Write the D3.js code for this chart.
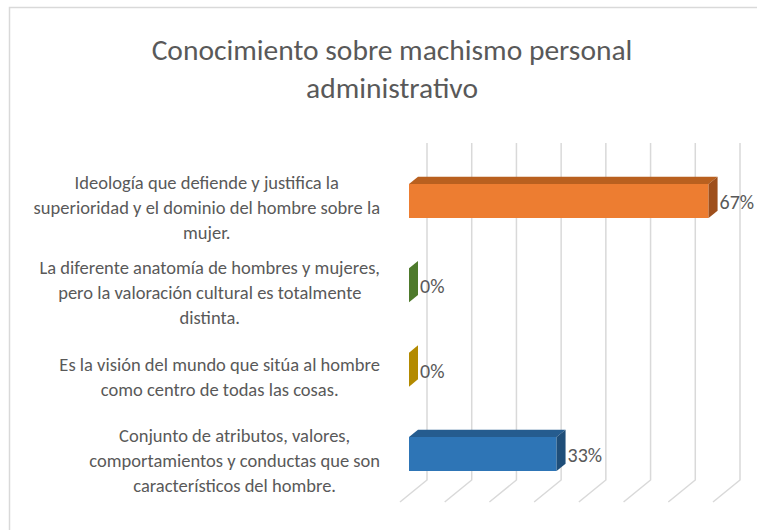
<!DOCTYPE html>
<html>
<head>
  <meta charset="utf-8">
  <script src="https://cdn.jsdelivr.net/npm/d3@7/dist/d3.min.js"></script>
  <style>
    body { margin: 0; background: #fff; }
    text { font-family: Calibri, Carlito, Lato, sans-serif; fill: #595959; }
  </style>
</head>
<body>
  <svg id="chart" width="757" height="530"></svg>
  <script>
  // datos del gráfico
  var categorias = [
    "Ideología que defiende y justifica la\nsuperioridad y el dominio del hombre sobre la\nmujer.",
    "La diferente anatomía de hombres y mujeres,\npero la valoración cultural es totalmente\ndistinta.",
    "Es la visión del mundo que sitúa al hombre\ncomo centro de todas las cosas.",
    "Conjunto de atributos, valores,\ncomportamientos y conductas que son\ncaracterísticos del hombre."
  ];
  var valores = [0.67, 0, 0, 0.33];
  var etiquetas = ["67%", "0%", "0%", "33%"];
  var ticks = [0, 0.1, 0.2, 0.3, 0.4, 0.5, 0.6, 0.7];
  var titulo = ["Conocimiento sobre machismo personal", "administrativo"];

  // colores: frente, arriba, lado
  var colores = [
    ["#ED7D31", "#B9601F", "#9E4F1C"],
    ["#5B8F35", "#4E7A2C", "#4E7A2C"],
    ["#C49500", "#B38A00", "#B38A00"],
    ["#2E75B6", "#255C8F", "#1F4E79"]
  ];

  var svg = d3.select("#chart");

  // borde del gráfico
  svg.append("rect")
    .attr("x", 9.5).attr("y", 7.5)
    .attr("width", 800).attr("height", 600)
    .attr("fill", "none").attr("stroke", "#D9D9D9").attr("stroke-width", 1.5);

  // título
  svg.append("g").selectAll("text")
    .data(titulo)
    .enter().append("text")
    .attr("x", 392)
    .attr("y", function(d, i) { return 50 + i * 38; })
    .attr("dy", "0.35em")
    .attr("text-anchor", "middle")
    .style("font-size", "29.5px")
    .style("font-weight", 300)
    .text(function(d) { return d; });

  // escalas
  var x = d3.scaleLinear().domain([0, 0.7]).range([0, 313]);
  var y = d3.scalePoint().domain(d3.range(categorias.length)).range([201, 454]);

  var fondoX = 427, gridTop = 143, gridBottom = 480;
  var prof = [-27, 22]; // profundidad (fondo -> frente)
  var barH = 34;
  var frenteX = fondoX + prof[0] * 2 / 3;
  var dx = -prof[0] / 3, dy = -prof[1] / 3; // cara de la barra

  // líneas de cuadrícula (pared y piso)
  var grid = svg.append("g").attr("stroke", "#D9D9D9").attr("stroke-width", 1.5).attr("fill", "none");
  grid.selectAll("path")
    .data(ticks)
    .enter().append("path")
    .attr("d", function(t) {
      var gx = fondoX + x(t);
      return "M" + gx + "," + gridTop + "V" + gridBottom + "L" + (gx + prof[0]) + "," + (gridBottom + prof[1]);
    });

  // barras 3D
  var barras = svg.append("g").selectAll("g")
    .data(valores)
    .enter().append("g");

  barras.append("rect")
    .attr("x", frenteX)
    .attr("y", function(d, i) { return y(i) - barH / 2; })
    .attr("width", function(d) { return x(d); })
    .attr("height", barH)
    .attr("fill", function(d, i) { return colores[i][0]; });

  barras.append("path")
    .attr("fill", function(d, i) { return colores[i][1]; })
    .attr("d", function(d, i) {
      var x0 = frenteX, x1 = frenteX + x(d), y0 = y(i) - barH / 2;
      return "M" + x0 + "," + y0 + "L" + (x0 + dx) + "," + (y0 + dy) + "L" + (x1 + dx) + "," + (y0 + dy) + "L" + x1 + "," + y0 + "Z";
    });

  barras.append("path")
    .attr("fill", function(d, i) { return colores[i][2]; })
    .attr("d", function(d, i) {
      var x1 = frenteX + x(d), y0 = y(i) - barH / 2, y1 = y(i) + barH / 2;
      return "M" + x1 + "," + y0 + "L" + (x1 + dx) + "," + (y0 + dy) + "L" + (x1 + dx) + "," + (y1 + dy) + "L" + x1 + "," + y1 + "Z";
    });

  // etiquetas de datos
  barras.append("text")
    .attr("x", function(d) { return frenteX + x(d) + dx + 2; })
    .attr("y", function(d, i) { return y(i) + 1; })
    .attr("dy", "0.35em")
    .style("font-size", "20px")
    .text(function(d, i) { return etiquetas[i]; });

  // etiquetas de categorías (alineadas a la derecha en 380, líneas centradas)
  var cats = svg.append("g").selectAll("g")
    .data(categorias)
    .enter().append("g");

  cats.each(function(d, i) {
    var g = d3.select(this);
    var lineas = d.split("\n");
    var lh = 25;
    var t = g.selectAll("text").data(lineas).enter().append("text")
      .attr("text-anchor", "middle")
      .attr("y", function(l, j) { return y(i) + 7 + (j - (lineas.length - 1) / 2) * lh; })
      .attr("dy", "0.35em")
      .style("font-size", "18.5px")
      .text(function(l) { return l; });
    var maxW = d3.max(t.nodes(), function(n) { return n.getComputedTextLength(); });
    g.attr("transform", "translate(" + (380 - maxW / 2) + ",0)");
  });
  </script>
</body>
</html>
